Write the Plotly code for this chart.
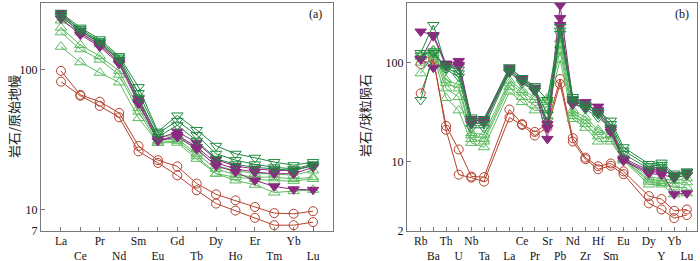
import plotly.graph_objects as go

# ---------------- data ----------------
ree = ["La", "Ce", "Pr", "Nd", "Sm", "Eu", "Gd", "Tb", "Dy", "Ho", "Er", "Tm", "Yb", "Lu"]

# (a) primitive-mantle normalised REE
ree_red = [
    [98, 66, 59, 49, 28.4, 22.5, 20.3, 15.3, 12.8, 11.6, 10.4, 9.4, 9.3, 9.7],
    [82, 65, 55, 45.6, 26, 21.5, 17.5, 13.7, 11.0, 9.8, 8.7, 7.7, 7.7, 8.1],
]
ree_lgreen = [
    [146, 113, 95, 81, 45, 30, 30, 23, 18, 16.1, 15, 13.2, 13.5, 13.8],
    [185, 140, 118, 92, 50, 30, 31, 24, 18, 17, 16.5, 16, 16, 16.5],
    [200, 150, 125, 98, 53, 31, 32, 25, 19.5, 17.7, 17, 17, 16.5, 17],
    [225, 185, 152, 117, 62, 33, 34, 27, 20.5, 19, 18, 18, 17.5, 19],
]
ree_dgreen = [
    [255, 200, 165, 125, 75, 36, 47, 37, 28.5, 25, 23.4, 21.8, 20.7, 21.8],
    [245, 195, 160, 122, 68, 35, 43, 34, 25, 22.5, 21, 20, 19.5, 21],
    [238, 190, 157, 118, 63, 33, 40, 31, 23, 21, 20, 19.5, 19, 20.5],
]
ree_purple = [
    [255, 190, 155, 117, 62, 32, 36, 30, 22.7, 20.4, 19.5, 19, 19, 20.7],
    [245, 183, 150, 113, 59, 31, 34, 28, 21.5, 19.5, 18.5, 18, 18, 20],
    [232, 178, 146, 110, 57, 31, 33, 27, 20.5, 18.5, 16.1, 14.6, 13.9, 13.8],
]

# (b) chondrite-normalised spider diagram
spider_axis = ["Rb", "Ba", "Th", "U", "Nb", "Ta", "K", "La", "Ce", "Pr", "Sr", "Pb",
               "Nd", "Zr", "Hf", "Sm", "Eu", "Ti", "Dy", "Y", "Yb", "Lu"]
spider_ticklabels = ["Rb", "Ba", "Th", "U", "Nb", "Ta", "", "La", "Ce", "Pr", "Sr", "Pb",
                     "Nd", "Zr", "Hf", "Sm", "Eu", "", "Dy", "Y", "Yb", "Lu"]
spider = ["Rb", "Ba", "Th", "U", "Nb", "Ta", "La", "Ce", "Pr", "Sr", "Pb",
          "Nd", "Zr", "Hf", "Sm", "Eu", "Dy", "Y", "Yb", "Lu"]

sp_red = [
    [97, 107, 23, 13.3, 7.1, 7.0, 33.7, 24, 20, 24, 68.5, 17.3, 11, 9.0, 9.6, 8.0, 4.5, 4.2, 3.2, 3.3],
    [49, 110, 21, 7.4, 6.9, 6.3, 28, 23.5, 18.4, 22, 61, 16, 10.6, 8.4, 9.1, 7.5, 3.8, 3.3, 2.7, 2.9],
]
sp_lgreen = [
    [78, 120, 44, 33, 15.5, 14, 51, 40, 33, 33, 107, 27, 22, 16, 16, 10.3, 5.9, 5.9, 4.7, 4.8],
    [100, 125, 55, 45, 17, 16, 57, 45, 37, 38, 130, 29, 24, 18, 17, 10.5, 6.3, 6.1, 5.5, 5.5],
    [115, 130, 62, 55, 18.5, 17, 62, 50, 42, 42, 150, 31, 26, 20, 18.5, 10.6, 6.6, 6.4, 6.0, 6.2],
    [120, 134, 67, 60, 19.5, 18.8, 66, 53, 45, 44, 172, 33, 28, 21, 19, 10.8, 7.0, 6.8, 6.5, 6.8],
]
sp_dgreen = [
    [125, 240, 92, 85, 28, 27, 90, 70, 58, 42, 230, 45, 38, 32, 26, 14, 9.5, 9.8, 7.6, 8.0],
    [118, 130, 88, 78, 25, 24, 85, 66, 55, 30, 210, 43, 36, 30, 24, 13, 9.0, 9.3, 7.2, 7.8],
    [42, 125, 85, 72, 22, 22, 80, 62, 52, 26, 195, 40, 34, 28, 22, 12, 8.5, 8.8, 6.8, 7.4],
]
sp_purple = [
    [206, 190, 98, 104, 27, 27, 88, 70, 56, 24, 380, 42, 40, 36, 22, 10.8, 8.2, 8.3, 7.3, 7.8],
    [110, 89, 95, 95, 26, 26, 84, 68, 54, 17, 282, 40, 37, 33, 21, 10.4, 7.9, 7.9, 4.7, 4.8],
    [108, 185, 92, 92, 24, 25, 80, 65, 52, 22, 240, 38, 35, 31, 20, 10.2, 7.6, 7.4, 6.9, 7.3],
]

# ---------------- styles ----------------
RED = "#b5412d"
LGREEN = "#5cbb5f"
DGREEN = "#1f8a3f"
PURPLE = "#8b2a80"
SERIF = "Liberation Serif, Times New Roman, serif"

styles = {
    "lgreen": dict(color=LGREEN, symbol="triangle-up-open", size=10),
    "dgreen": dict(color=DGREEN, symbol="triangle-down-open", size=10),
    "purple": dict(color=PURPLE, symbol="triangle-down", size=10),
    "red": dict(color=RED, symbol="circle-open", size=9),
}

fig = go.Figure()


def add(xs, ys, kind, xaxis, yaxis):
    st = styles[kind]
    fig.add_trace(go.Scatter(
        x=xs, y=ys, mode="lines+markers", xaxis=xaxis, yaxis=yaxis,
        line=dict(color=st["color"], width=1),
        marker=dict(symbol=st["symbol"], size=st["size"], color=st["color"],
                    line=dict(color=st["color"], width=1)),
        showlegend=False, hoverinfo="skip",
    ))


for kind, data in [("red", ree_red), ("lgreen", ree_lgreen), ("purple", ree_purple), ("dgreen", ree_dgreen)]:
    for s in data:
        add(ree, s, kind, "x", "y")
for kind, data in [("red", sp_red), ("lgreen", sp_lgreen), ("purple", sp_purple), ("dgreen", sp_dgreen)]:
    for s in data:
        add(spider, s, kind, "x2", "y2")


def two_row(labels):
    return [("<br>" + t if i % 2 else t) for i, t in enumerate(labels)]


axis_common = dict(showline=True, linecolor="#7a7a7a", linewidth=1.3, mirror=True,
                   ticks="inside", ticklen=4, tickcolor="#7a7a7a", showgrid=False,
                   zeroline=False, automargin=False, tickangle=0,
                   tickfont=dict(family=SERIF, size=12, color="#111"))
xfont = dict(family=SERIF, size=11.5, color="#111")

W, H = 700, 261
ydom = [1 - 231 / H, 1 - 3 / H]

fig.update_layout(
    width=W, height=H, autosize=False, margin=dict(l=0, r=0, t=0, b=0, pad=0),
    paper_bgcolor="white", plot_bgcolor="white",
    xaxis=dict(domain=[41 / W, 333 / W], type="category", categoryorder="array",
               categoryarray=ree, tickvals=ree, ticktext=two_row(ree),
               range=[-1.03, 14.03], anchor="y", **axis_common),
    yaxis=dict(domain=ydom, type="log", range=[0.8450, 2.4772],
               tickvals=[7, 10, 100, 300], ticktext=["7", "10", "100", "300"],
               anchor="x", **axis_common),
    xaxis2=dict(domain=[407 / W, 697 / W], type="category", categoryorder="array",
                categoryarray=spider_axis, tickvals=spider_axis,
                ticktext=two_row(spider_ticklabels),
                range=[-1.08, 21.8], anchor="y2", **axis_common),
    yaxis2=dict(domain=ydom, type="log", range=[0.3010, 2.6021],
                tickvals=[2, 10, 100, 400], ticktext=["2", "10", "100", "400"],
                anchor="x2", **axis_common),
)
fig.update_xaxes(tickfont=xfont, ticklabelstandoff=-1)

fig.add_annotation(text="(a)", xref="x domain", yref="y domain", x=0.97, y=0.95,
                   xanchor="right", yanchor="middle", showarrow=False,
                   font=dict(family=SERIF, size=12, color="#111"))
fig.add_annotation(text="(b)", xref="x2 domain", yref="y2 domain", x=0.98, y=0.95,
                   xanchor="right", yanchor="middle", showarrow=False,
                   font=dict(family=SERIF, size=12, color="#111"))
fig.add_annotation(text="岩石/原始地幔", xref="paper", yref="paper", x=13 / W, y=1 - 117 / H,
                   textangle=-90, showarrow=False, xanchor="center", yanchor="middle",
                   font=dict(family="Noto Sans CJK SC", size=13, color="#222"))
fig.add_annotation(text="岩石/球粒陨石", xref="paper", yref="paper", x=364 / W, y=1 - 116 / H,
                   textangle=-90, showarrow=False, xanchor="center", yanchor="middle",
                   font=dict(family="Noto Sans CJK SC", size=13, color="#222"))

fig.write_html("out.html", config={"displayModeBar": False},
               post_script="document.body.style.margin='0px';document.body.style.padding='0px';")
